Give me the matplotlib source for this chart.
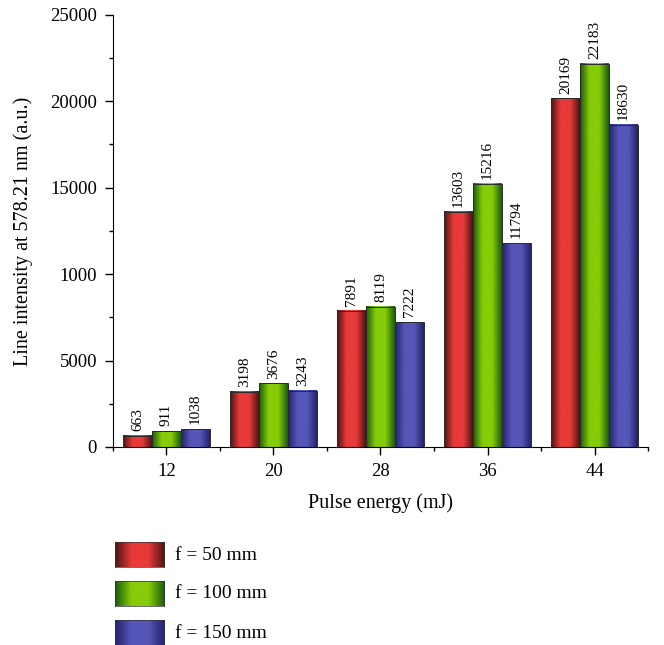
import numpy as np
import matplotlib
matplotlib.use("Agg")
import matplotlib.pyplot as plt
from matplotlib.colors import LinearSegmentedColormap

plt.rcParams['font.family'] = ['Liberation Serif', 'DejaVu Serif']

energies = ['12', '20', '28', '36', '44']
f50 = [663, 3198, 7891, 13603, 20169]
f100 = [911, 3676, 8119, 15216, 22183]
f150 = [1038, 3243, 7222, 11794, 18630]
series_names = ['f = 50 mm', 'f = 100 mm', 'f = 150 mm']
y_ticks = [0, 5000, 10000, 15000, 20000, 25000]
y_tick_labels = ['0', '5000', '1000', '15000', '20000', '25000']

# edge / center colours for the cylinder-like shading
shades = [
    ('#4a1414', '#e83a38'),
    ('#1a5a10', '#86cc08'),
    ('#22226a', '#5656b8'),
]

def make_cmap(edge, center):
    return LinearSegmentedColormap.from_list('g', [edge, center, center, edge], N=256)

grad = np.linspace(0, 1, 256).reshape(1, -1)
fig = plt.figure(figsize=(6.64, 6.45), dpi=100)
ax = fig.add_axes([0.170, 0.307, 0.806, 0.670])

width = 0.27
x = np.arange(len(energies))
for i, vals in enumerate([f50, f100, f150]):
    cmap = make_cmap(*shades[i])
    for xi, v in zip(x, vals):
        left = xi + (i - 1) * width - width / 2
        ax.imshow(grad, cmap=cmap, aspect='auto',
                  extent=[left, left + width, 0, v], zorder=2)
        ax.bar(left, v, width=width, align='edge', facecolor='none',
               edgecolor='#2a2a2a', linewidth=0.7, zorder=3)
        ax.text(left + width / 2, v + 280, str(v), rotation=90,
                ha='center', va='bottom', fontsize=11)

ax.set_xlim(-0.5, 4.5)
ax.set_ylim(0, 25000)
ax.set_xticks(x)
ax.set_xticklabels(energies, fontsize=13.5)
ax.set_xticks(np.arange(-0.5, 5, 1), minor=True)
ax.set_yticks(y_ticks)
ax.set_yticklabels(y_tick_labels, fontsize=13.5)
ax.set_yticks(np.arange(2500, 25000, 5000), minor=True)
ax.tick_params(axis='both', which='major', direction='out', length=5.5, width=1)
ax.tick_params(axis='both', which='minor', direction='out', length=3, width=1)
ax.tick_params(axis='y', which='major', pad=6)
ax.tick_params(axis='x', which='major', pad=6)
ax.spines['top'].set_visible(False)
ax.spines['right'].set_visible(False)
ax.set_xlabel('Pulse energy (mJ)', fontsize=14.5)
ax.set_ylabel('Line intensity at 578.21 nm (a.u.)', fontsize=14.5)
ax.xaxis.set_label_coords(0.5, -0.108)
ax.yaxis.set_label_coords(-0.150, 0.5)

# legend below the plot
for i, name in enumerate(series_names):
    ytop = 542 + i * 39
    lax = fig.add_axes([115 / 664, 1 - (ytop + 25) / 645, 49 / 664, 25 / 645])
    lax.imshow(grad, cmap=make_cmap(*shades[i]), aspect='auto')
    lax.set_xticks([])
    lax.set_yticks([])
    for s in lax.spines.values():
        s.set_linewidth(0.5)
        s.set_color('#333333')
    fig.text(175 / 664, 1 - (ytop + 13) / 645, name, fontsize=14, va='center')

fig.savefig('out.png', dpi=100)
